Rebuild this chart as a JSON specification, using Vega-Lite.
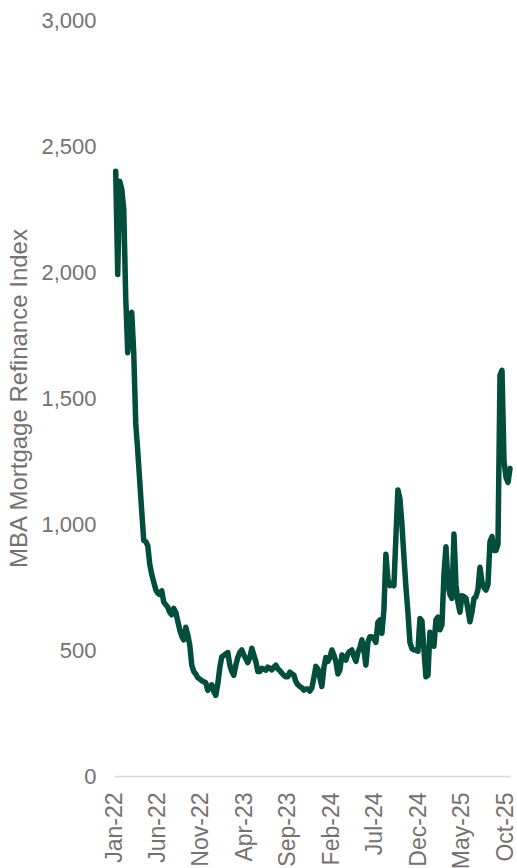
{
  "$schema": "https://vega.github.io/schema/vega-lite/v6.json",
  "autosize": {"type": "none"},
  "padding": {"left": 114, "top": 20, "right": 7, "bottom": 92},
  "width": 396,
  "height": 756,
  "background": "white",
  "config": {"view": {"stroke": null}, "font": "Liberation Sans"},
  "data": {"values": [
    {"d":"2022-01-07","v":2400},{"d":"2022-01-14","v":1990},{"d":"2022-01-21","v":2360},{"d":"2022-01-28","v":2330},
    {"d":"2022-02-04","v":2250},{"d":"2022-02-11","v":1900},{"d":"2022-02-18","v":1680},{"d":"2022-02-25","v":1820},
    {"d":"2022-03-04","v":1840},{"d":"2022-03-11","v":1680},{"d":"2022-03-18","v":1400},{"d":"2022-03-25","v":1290},
    {"d":"2022-04-01","v":1170},{"d":"2022-04-08","v":1050},{"d":"2022-04-15","v":935},{"d":"2022-04-22","v":930},{"d":"2022-04-29","v":915},
    {"d":"2022-05-06","v":840},{"d":"2022-05-13","v":800},{"d":"2022-05-20","v":770},{"d":"2022-05-27","v":740},
    {"d":"2022-06-03","v":726},{"d":"2022-06-10","v":720},{"d":"2022-06-17","v":735},{"d":"2022-06-24","v":690},
    {"d":"2022-07-01","v":680},{"d":"2022-07-08","v":670},{"d":"2022-07-15","v":650},{"d":"2022-07-22","v":640},{"d":"2022-07-29","v":665},
    {"d":"2022-08-05","v":650},{"d":"2022-08-12","v":615},{"d":"2022-08-19","v":580},{"d":"2022-08-26","v":555},
    {"d":"2022-09-02","v":540},{"d":"2022-09-09","v":590},{"d":"2022-09-16","v":560},{"d":"2022-09-23","v":520},{"d":"2022-09-30","v":440},
    {"d":"2022-10-07","v":415},{"d":"2022-10-14","v":405},{"d":"2022-10-21","v":390},{"d":"2022-10-28","v":385},
    {"d":"2022-11-04","v":378},{"d":"2022-11-11","v":374},{"d":"2022-11-18","v":370},{"d":"2022-11-25","v":340},
    {"d":"2022-12-02","v":350},{"d":"2022-12-09","v":362},{"d":"2022-12-16","v":335},{"d":"2022-12-23","v":320},{"d":"2022-12-30","v":365},
    {"d":"2023-01-06","v":430},{"d":"2023-01-13","v":473},{"d":"2023-01-20","v":478},{"d":"2023-01-27","v":485},
    {"d":"2023-02-03","v":490},{"d":"2023-02-10","v":440},{"d":"2023-02-17","v":415},{"d":"2023-02-24","v":400},
    {"d":"2023-03-03","v":440},{"d":"2023-03-10","v":470},{"d":"2023-03-17","v":490},{"d":"2023-03-24","v":500},{"d":"2023-03-31","v":480},
    {"d":"2023-04-07","v":465},{"d":"2023-04-14","v":450},{"d":"2023-04-21","v":470},{"d":"2023-04-28","v":507},
    {"d":"2023-05-05","v":480},{"d":"2023-05-12","v":455},{"d":"2023-05-19","v":415},{"d":"2023-05-26","v":415},
    {"d":"2023-06-02","v":427},{"d":"2023-06-09","v":425},{"d":"2023-06-16","v":420},{"d":"2023-06-23","v":432},{"d":"2023-06-30","v":428},
    {"d":"2023-07-07","v":421},{"d":"2023-07-14","v":432},{"d":"2023-07-21","v":440},{"d":"2023-07-28","v":425},
    {"d":"2023-08-04","v":418},{"d":"2023-08-11","v":408},{"d":"2023-08-18","v":400},{"d":"2023-08-25","v":394},
    {"d":"2023-09-01","v":394},{"d":"2023-09-08","v":412},{"d":"2023-09-15","v":405},{"d":"2023-09-22","v":400},{"d":"2023-09-29","v":375},
    {"d":"2023-10-06","v":362},{"d":"2023-10-13","v":355},{"d":"2023-10-20","v":350},{"d":"2023-10-27","v":341},
    {"d":"2023-11-03","v":345},{"d":"2023-11-10","v":345},{"d":"2023-11-17","v":337},{"d":"2023-11-24","v":350},
    {"d":"2023-12-01","v":390},{"d":"2023-12-08","v":435},{"d":"2023-12-15","v":425},{"d":"2023-12-22","v":390},{"d":"2023-12-29","v":355},
    {"d":"2024-01-05","v":430},{"d":"2024-01-12","v":470},{"d":"2024-01-19","v":455},{"d":"2024-01-26","v":470},
    {"d":"2024-02-02","v":500},{"d":"2024-02-09","v":480},{"d":"2024-02-16","v":455},{"d":"2024-02-23","v":405},
    {"d":"2024-03-01","v":420},{"d":"2024-03-08","v":480},{"d":"2024-03-15","v":470},{"d":"2024-03-22","v":460},{"d":"2024-03-29","v":485},
    {"d":"2024-04-05","v":495},{"d":"2024-04-12","v":500},{"d":"2024-04-19","v":475},{"d":"2024-04-26","v":455},
    {"d":"2024-05-03","v":490},{"d":"2024-05-10","v":510},{"d":"2024-05-17","v":540},{"d":"2024-05-24","v":500},{"d":"2024-05-31","v":440},
    {"d":"2024-06-07","v":530},{"d":"2024-06-14","v":553},{"d":"2024-06-21","v":553},{"d":"2024-06-28","v":545},
    {"d":"2024-07-05","v":530},{"d":"2024-07-12","v":610},{"d":"2024-07-19","v":619},{"d":"2024-07-26","v":566},
    {"d":"2024-08-02","v":660},{"d":"2024-08-09","v":880},{"d":"2024-08-16","v":780},{"d":"2024-08-23","v":755},{"d":"2024-08-30","v":762},
    {"d":"2024-09-06","v":755},{"d":"2024-09-13","v":950},{"d":"2024-09-20","v":1135},{"d":"2024-09-27","v":1100},
    {"d":"2024-10-04","v":1000},{"d":"2024-10-11","v":870},{"d":"2024-10-18","v":750},{"d":"2024-10-25","v":650},
    {"d":"2024-11-01","v":530},{"d":"2024-11-08","v":505},{"d":"2024-11-15","v":500},{"d":"2024-11-22","v":500},{"d":"2024-11-29","v":495},
    {"d":"2024-12-06","v":625},{"d":"2024-12-13","v":615},{"d":"2024-12-20","v":500},{"d":"2024-12-27","v":394},
    {"d":"2025-01-03","v":400},{"d":"2025-01-10","v":570},{"d":"2025-01-17","v":530},{"d":"2025-01-24","v":515},{"d":"2025-01-31","v":620},
    {"d":"2025-02-07","v":630},{"d":"2025-02-14","v":580},{"d":"2025-02-21","v":600},{"d":"2025-02-28","v":800},
    {"d":"2025-03-07","v":910},{"d":"2025-03-14","v":760},{"d":"2025-03-21","v":720},{"d":"2025-03-28","v":705},
    {"d":"2025-04-04","v":960},{"d":"2025-04-11","v":760},{"d":"2025-04-18","v":690},{"d":"2025-04-25","v":650},
    {"d":"2025-05-02","v":715},{"d":"2025-05-09","v":712},{"d":"2025-05-16","v":705},{"d":"2025-05-23","v":660},{"d":"2025-05-30","v":612},
    {"d":"2025-06-06","v":650},{"d":"2025-06-13","v":705},{"d":"2025-06-20","v":712},{"d":"2025-06-27","v":740},
    {"d":"2025-07-04","v":828},{"d":"2025-07-11","v":770},{"d":"2025-07-18","v":748},{"d":"2025-07-25","v":738},
    {"d":"2025-08-01","v":760},{"d":"2025-08-08","v":930},{"d":"2025-08-15","v":950},{"d":"2025-08-22","v":895},{"d":"2025-08-29","v":895},
    {"d":"2025-09-05","v":920},{"d":"2025-09-12","v":1590},{"d":"2025-09-19","v":1610},{"d":"2025-09-26","v":1250},
    {"d":"2025-10-03","v":1185},{"d":"2025-10-10","v":1165},{"d":"2025-10-17","v":1220}
  ]},
  "mark": {"type": "line", "color": "#024d3b", "strokeWidth": 5.5, "strokeJoin": "round", "strokeCap": "round", "clip": false},
  "encoding": {
    "x": {
      "field": "d", "type": "temporal",
      "scale": {"type": "utc", "domain": [{"year": 2022, "month": 1, "date": 1, "utc": true}, {"year": 2025, "month": 10, "date": 17, "utc": true}]},
      "axis": {
        "title": null,
        "values": [
          {"year": 2022, "month": 1, "date": 1, "utc": true},
          {"year": 2022, "month": 6, "date": 1, "utc": true},
          {"year": 2022, "month": 11, "date": 1, "utc": true},
          {"year": 2023, "month": 4, "date": 1, "utc": true},
          {"year": 2023, "month": 9, "date": 1, "utc": true},
          {"year": 2024, "month": 2, "date": 1, "utc": true},
          {"year": 2024, "month": 7, "date": 1, "utc": true},
          {"year": 2024, "month": 12, "date": 1, "utc": true},
          {"year": 2025, "month": 5, "date": 1, "utc": true},
          {"year": 2025, "month": 10, "date": 1, "utc": true}
        ],
        "format": "%b-%y",
        "labelAngle": -90,
        "labelAlign": "right",
        "labelBaseline": "middle",
        "labelFontSize": 23,
        "labelColor": "#767171",
        "labelPadding": 16,
        "labelOverlap": false,
        "labelFlush": false,
        "ticks": false,
        "tickSize": 0,
        "grid": false,
        "domain": true,
        "domainColor": "#d9d9d9",
        "domainWidth": 1.5
      }
    },
    "y": {
      "field": "v", "type": "quantitative",
      "scale": {"domain": [0, 3000], "nice": false, "zero": true},
      "axis": {
        "title": "MBA Mortgage Refinance Index",
        "titleFontSize": 24,
        "titleFontWeight": "normal",
        "titleColor": "#767171",
        "titlePadding": 9,
        "values": [0, 500, 1000, 1500, 2000, 2500, 3000],
        "format": ",.0f",
        "labelFontSize": 22,
        "labelColor": "#767171",
        "labelPadding": 18,
        "ticks": false,
        "tickSize": 0,
        "grid": false,
        "domain": false
      }
    }
  }
}
